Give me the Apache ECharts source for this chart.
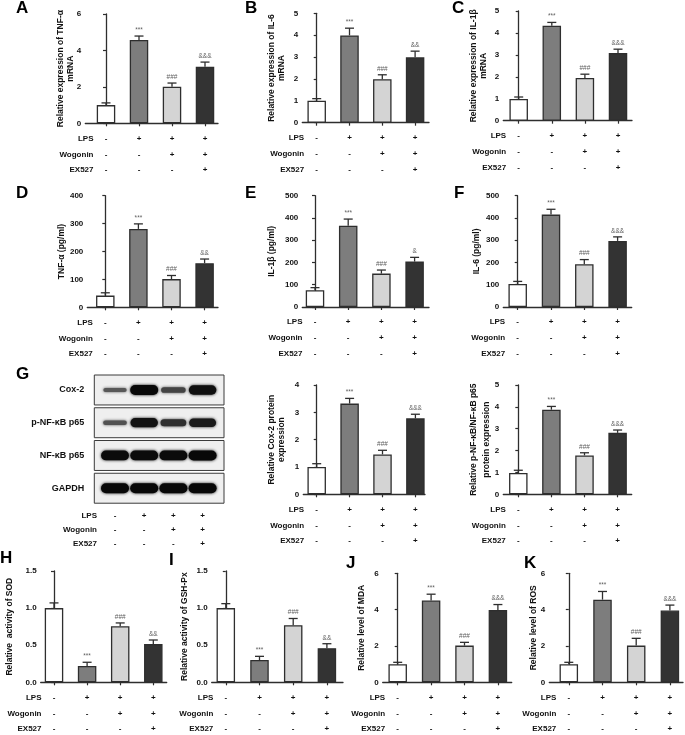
<!DOCTYPE html>
<html><head><meta charset="utf-8">
<script src="https://cdn.jsdelivr.net/npm/echarts@6/dist/echarts.min.js"></script>
<style>html,body{margin:0;padding:0;background:#fff}#c{width:685px;height:735px}</style>
</head><body><div id="c"></div>
<script>
// ---------- data ----------
const rowLabels = ['LPS', 'Wogonin', 'EX527'];
const lpsSigns = ['-', '+', '+', '+'];
const wogoninSigns = ['-', '-', '+', '+'];
const ex527Signs = ['-', '-', '-', '+'];

const tnfMrna = [1.0, 4.57, 2.01, 3.10];
const tnfMrnaErr = [0.12, 0.22, 0.20, 0.26];
const il6Mrna = [1.0, 3.99, 1.99, 2.99];
const il6MrnaErr = [0.10, 0.33, 0.20, 0.28];
const il1bMrna = [0.99, 4.33, 1.95, 3.08];
const il1bMrnaErr = [0.09, 0.15, 0.17, 0.18];
const tnfPg = [42, 281, 101, 158];
const tnfPgErr = [10, 18, 13, 15];
const il1bPg = [75, 365, 150, 204];
const il1bPgErr = [12, 30, 16, 19];
const il6Pg = [103, 415, 192, 297];
const il6PgErr = [12, 24, 21, 18];
const cox2Protein = [1.0, 3.32, 1.46, 2.78];
const cox2ProteinErr = [0.12, 0.19, 0.15, 0.15];
const pNfkbRatio = [0.98, 3.87, 1.78, 2.81];
const pNfkbRatioErr = [0.12, 0.15, 0.12, 0.13];
const sodActivity = [1.0, 0.22, 0.755, 0.515];
const sodActivityErr = [0.07, 0.05, 0.045, 0.055];
const gshActivity = [1.0, 0.30, 0.77, 0.46];
const gshActivityErr = [0.06, 0.05, 0.09, 0.06];
const mdaLevel = [1.0, 4.50, 2.02, 3.98];
const mdaLevelErr = [0.10, 0.35, 0.18, 0.30];
const rosLevel = [1.0, 4.55, 2.02, 3.95];
const rosLevelErr = [0.10, 0.45, 0.40, 0.30];

const sigA = ['', '***', '###', '&&&'];
const sigB = ['', '***', '###', '&&'];
const sigC = ['', '***', '###', '&&&'];
const sigD = ['', '***', '###', '&&'];
const sigE = ['', '***', '###', '&'];
const sigF = ['', '***', '###', '&&&'];
const sigCox2 = ['', '***', '###', '&&&'];
const sigPnf = ['', '***', '###', '&&&'];
const sigH = ['', '***', '###', '&&'];
const sigI = ['', '***', '###', '&&'];
const sigJ = ['', '***', '###', '&&&'];
const sigK = ['', '***', '###', '&&&'];

const blotLabels = ['Cox-2', 'p-NF-\u03baB p65', 'NF-\u03baB p65', 'GAPDH'];
const blotIntensity = [
  [0.22, 1.0, 0.42, 0.92],
  [0.28, 0.9, 0.62, 0.82],
  [0.97, 0.97, 0.97, 1.0],
  [1.0, 1.0, 1.0, 1.0]
];

// ---------- layout / style ----------
const FONT = '"Liberation Sans", Arial, sans-serif';
const TXT = '#111';
const AX = '#2e2e2e';
const barColors = ['#ffffff', '#7d7d7d', '#d4d4d4', '#333333'];

const panels = [
  {vals: tnfMrna, errs: tnfMrnaErr, sig: sigA, name: 'Relative expression of TNF-\u03b1\nmRNA', max: 6, interval: 2, left: 85.3, right: 218, top: 14, bottom: 123.3, c0: 106, sp: 33, gap: 9.3},
  {vals: il6Mrna, errs: il6MrnaErr, sig: sigB, name: 'Relative expression of IL-6\nmRNA', max: 5, interval: 1, left: 302.3, right: 429, top: 13.3, bottom: 122.7, c0: 316.7, sp: 32.8, gap: 15.6},
  {vals: il1bMrna, errs: il1bMrnaErr, sig: sigC, name: 'Relative expression of IL-1\u03b2\nmRNA', max: 5, interval: 1, left: 503.3, right: 632, top: 11, bottom: 120.7, c0: 518.7, sp: 33.1, gap: 14.6},
  {vals: tnfPg, errs: tnfPgErr, sig: sigD, name: 'TNF-\u03b1 (pg/ml)', max: 400, interval: 100, left: 87.3, right: 218, top: 195.7, bottom: 307.3, c0: 105.3, sp: 33.1, gap: 20.6},
  {vals: il1bPg, errs: il1bPgErr, sig: sigE, name: 'IL-1\u03b2 (pg/ml)', max: 500, interval: 100, left: 302.3, right: 429, top: 195.7, bottom: 307, c0: 315, sp: 33.2, gap: 25.6},
  {vals: il6Pg, errs: il6PgErr, sig: sigF, name: 'IL-6 (pg/ml)', max: 500, interval: 100, left: 503.3, right: 631.7, top: 195.7, bottom: 307, c0: 517.7, sp: 33.3, gap: 21.6},
  {vals: cox2Protein, errs: cox2ProteinErr, sig: sigCox2, name: 'Relative Cox-2 protein\nexpression', max: 4, interval: 1, left: 303.3, right: 425, top: 385, bottom: 494.3, c0: 316.7, sp: 32.9, gap: 16.6},
  {vals: pNfkbRatio, errs: pNfkbRatioErr, sig: sigPnf, name: 'Relative p-NF-\u03baB/NF-\u03baB p65\nprotein expression', max: 5, interval: 1, left: 503.3, right: 631.7, top: 385, bottom: 494.3, c0: 518.3, sp: 33.1, gap: 10, lh: 13},
  {vals: sodActivity, errs: sodActivityErr, sig: sigH, name: 'Relative  activity of SOD', max: 1.5, interval: 0.5, dec: 1, left: 40.7, right: 166.7, top: 571, bottom: 682.3, c0: 54, sp: 33.1, gap: 25.7},
  {vals: gshActivity, errs: gshActivityErr, sig: sigI, name: 'Relative activity of GSH-Px', max: 1.5, interval: 0.5, dec: 1, left: 211.7, right: 343, top: 571, bottom: 682.3, c0: 225.8, sp: 33.7, gap: 21.7},
  {vals: mdaLevel, errs: mdaLevelErr, sig: sigJ, name: 'Relative level of MDA', max: 6, interval: 2, left: 382.7, right: 511.7, top: 573.3, bottom: 682.3, c0: 397.7, sp: 33.4, gap: 16},
  {vals: rosLevel, errs: rosLevelErr, sig: sigK, name: 'Relative level of ROS', max: 6, interval: 2, left: 549.3, right: 683, top: 573.3, bottom: 682.3, c0: 568.8, sp: 33.7, gap: 10.3}
];

const letters = [
  ['A', 16, -0.5], ['B', 245, -0.5], ['C', 452, -0.5],
  ['D', 16, 184.5], ['E', 245, 184.5], ['F', 454, 184.5],
  ['G', 16, 365.5], ['H', 0, 549.5], ['I', 169, 552],
  ['J', 346, 554.5], ['K', 524, 554.5]
];

const blot = {left: 94.3, right: 224, top: 375, rowPitch: 32.75, c0: 115, sp: 29.2};

const signFormatter = v => {
  const k = Math.round(v);
  return lpsSigns[k] + '\n' + wogoninSigns[k] + '\n' + ex527Signs[k];
};

const grids = [], xAxes = [], yAxes = [], series = [], graphics = [];

panels.forEach((p, i) => {
  grids.push({left: p.left, top: p.top, width: p.right - p.left, height: p.bottom - p.top, outerBoundsMode: 'none', containLabel: false});
  xAxes.push({
    type: 'value', gridIndex: i,
    min: (p.left - p.c0) / p.sp, max: (p.right - p.c0) / p.sp,
    axisLine: {show: true, onZero: false, lineStyle: {color: AX, width: 1.3}},
    axisTick: {show: true, customValues: [0, 1, 2, 3], length: 3, lineStyle: {color: AX, width: 1.2}},
    axisLabel: {show: true, customValues: [0, 1, 2, 3], formatter: signFormatter, margin: 7.4, lineHeight: 15.75,
      fontSize: 8, fontWeight: 'bold', fontFamily: FONT, color: TXT},
    splitLine: {show: false}
  });
  yAxes.push({
    type: 'value', gridIndex: i, min: 0, max: p.max, interval: p.interval,
    axisLine: {show: true, lineStyle: {color: AX, width: 1.3}},
    axisTick: {show: true, length: 3, lineStyle: {color: AX, width: 1.2}},
    axisLabel: {margin: 4, fontSize: 8, fontWeight: 'bold', fontFamily: FONT, color: TXT,
      formatter: v => p.dec ? v.toFixed(p.dec) : String(v)},
    splitLine: {show: false},
    name: p.name, nameLocation: 'middle', nameGap: p.gap, nameMoveOverlap: false,
    nameTextStyle: {fontSize: 8.5, fontWeight: 'bold', fontFamily: FONT, color: TXT, lineHeight: p.lh || 10}
  });
  series.push({
    type: 'bar', xAxisIndex: i, yAxisIndex: i, barWidth: 18.5,
    data: p.vals.map((v, k) => ({value: [k, v], itemStyle: {color: barColors[k]}})),
    itemStyle: {borderColor: AX, borderWidth: 1.3},
    silent: true, animation: false
  });
  series.push({
    type: 'custom', xAxisIndex: i, yAxisIndex: i, z: 5, animation: false, silent: true,
    data: p.vals.map((v, k) => [k, v, p.errs[k]]),
    renderItem: (params, api) => {
      const x = api.value(0), v = api.value(1), e = api.value(2);
      const a = api.coord([x, v]), b = api.coord([x, v + e]);
      const st = {stroke: AX, lineWidth: 1.3};
      return {type: 'group', children: [
        {type: 'line', shape: {x1: a[0], y1: a[1], x2: b[0], y2: b[1]}, style: st},
        {type: 'line', shape: {x1: b[0] - 4.5, y1: b[1], x2: b[0] + 4.5, y2: b[1]}, style: st},
        {type: 'text', x: b[0], y: b[1] - 6, style: {text: p.sig[params.dataIndex], fill: '#5e5e5e',
          fontSize: 6.5, fontFamily: FONT, align: 'center', verticalAlign: 'middle'}}
      ]};
    }
  });
  graphics.push({type: 'text', x: p.c0 - 12.5, y: p.bottom + 7.4,
    style: {text: rowLabels.join('\n'), fill: TXT, fontSize: 8, fontWeight: 'bold', fontFamily: FONT,
      align: 'right', verticalAlign: 'top', lineHeight: 15.75}});
});

// ---------- western blot panel ----------
const bi = panels.length;
grids.push({left: blot.left, top: blot.top, width: blot.right - blot.left, height: blot.rowPitch * 4, outerBoundsMode: 'none', containLabel: false});
xAxes.push({
  type: 'value', gridIndex: bi, min: (blot.left - blot.c0) / blot.sp, max: (blot.right - blot.c0) / blot.sp,
  axisLine: {show: false}, axisTick: {show: false}, splitLine: {show: false},
  axisLabel: {show: true, customValues: [0, 1, 2, 3], formatter: signFormatter, margin: 2.8, lineHeight: 13.8,
    fontSize: 8, fontWeight: 'bold', fontFamily: FONT, color: TXT}
});
yAxes.push({type: 'value', gridIndex: bi, min: 0, max: 4, inverse: true, show: false, splitLine: {show: false}});
const lerp = (a, b, t) => Math.round(a + (b - a) * t);
series.push({
  type: 'custom', xAxisIndex: bi, yAxisIndex: bi, animation: false, silent: true,
  data: blotIntensity.map((row, r) => [r].concat(row)),
  renderItem: (params, api) => {
    const r = api.value(0);
    const cs = params.coordSys;
    const yTop = api.coord([0, r])[1];
    const yBot = api.coord([0, r + 0.915])[1];
    const yMid = (yTop + yBot) / 2;
    const children = [
      {type: 'rect', shape: {x: cs.x, y: yTop, width: cs.width, height: yBot - yTop},
        style: {fill: '#efefef', stroke: '#3a3a3a', lineWidth: 1}},
      {type: 'text', x: cs.x - 10, y: yMid, style: {text: blotLabels[r], fill: TXT, fontSize: 9,
        fontWeight: 'bold', fontFamily: FONT, align: 'right', verticalAlign: 'middle'}}
    ];
    for (let k = 0; k < 4; k++) {
      const t = api.value(k + 1);
      const c = api.coord([k, r])[0];
      const h = 2.5 + 7.5 * t;
      const w = 22 + 6 * t;
      const g = lerp(110, 8, t);
      const col = 'rgb(' + g + ',' + g + ',' + g + ')';
      children.push({type: 'rect', shape: {x: c - w / 2, y: yMid - h / 2, width: w, height: h, r: h / 2},
        style: {fill: col, shadowBlur: 3, shadowColor: col}});
    }
    return {type: 'group', children};
  }
});
graphics.push({type: 'text', x: blot.c0 - 18, y: blot.top + blot.rowPitch * 4 + 2.8,
  style: {text: rowLabels.join('\n'), fill: TXT, fontSize: 8, fontWeight: 'bold', fontFamily: FONT,
    align: 'right', verticalAlign: 'top', lineHeight: 13.8}});

letters.forEach(([t, x, y]) => graphics.push({type: 'text', x, y,
  style: {text: t, fill: '#000', fontSize: 17, fontWeight: 'bold', fontFamily: FONT, verticalAlign: 'top'}}));

const chart = echarts.init(document.getElementById('c'), null, {renderer: 'canvas'});
chart.setOption({
  backgroundColor: '#ffffff',
  animation: false,
  grid: grids, xAxis: xAxes, yAxis: yAxes, series, graphic: graphics
});
</script></body></html>
